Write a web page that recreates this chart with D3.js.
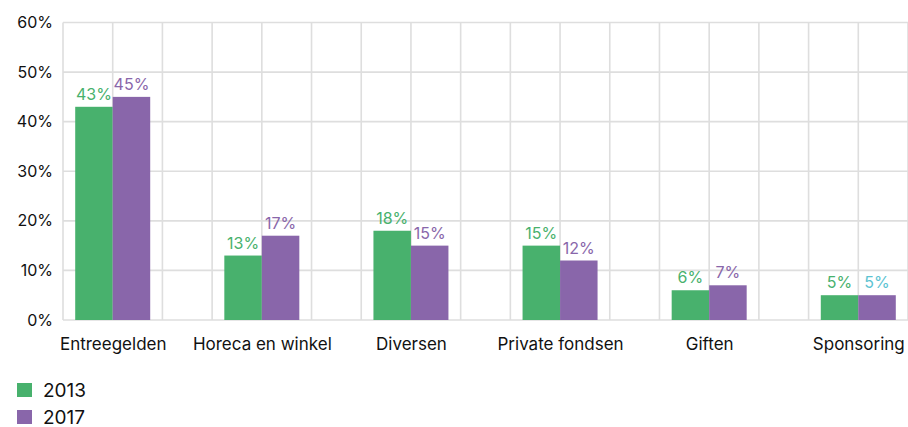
<!DOCTYPE html>
<html>
<head>
<meta charset="utf-8">
<script src="https://cdn.jsdelivr.net/npm/d3@7"></script>
<style>
  html, body { margin: 0; padding: 0; background: #ffffff; }
  svg { display: block; font-family: Inter, "Noto Sans", sans-serif; }
</style>
</head>
<body>
<svg id="chart" width="908" height="427"></svg>
<script>
// Inkomstenbronnen, aandeel per jaar
const categories = ["Entreegelden", "Horeca en winkel", "Diversen", "Private fondsen", "Giften", "Sponsoring"];
const series = ["2013", "2017"];
const values2013 = [43, 13, 18, 15, 6, 5];
const values2017 = [45, 17, 15, 12, 7, 5];
const yTicks = [0, 10, 20, 30, 40, 50, 60];

const colors = { "2013": "#48b16d", "2017": "#8966aa" };
const labelColors2013 = ["#48b16d", "#48b16d", "#48b16d", "#48b16d", "#48b16d", "#48b16d"];
const labelColors2017 = ["#8966aa", "#8966aa", "#8966aa", "#8966aa", "#8966aa", "#5cc3d2"];

const svg = d3.select("#chart");
const plot = { left: 63, right: 908, top: 22.5, bottom: 320 };
const gridStep = (plot.right - plot.left) / 17;

const y = d3.scaleLinear().domain([0, 60]).range([plot.bottom, plot.top]);
const x = d3.scalePoint().domain(categories).range([plot.left + gridStep, plot.left + 16 * gridStep]);
const sub = d3.scaleBand().domain(series).range([-37.5, 37.5]);

// grid
const grid = svg.append("g").attr("stroke", "#dedede").attr("stroke-width", 1.6);
grid.selectAll("line.h").data(yTicks).join("line").attr("class", "h")
  .attr("x1", plot.left).attr("x2", plot.right)
  .attr("y1", d => y(d)).attr("y2", d => y(d));
grid.selectAll("line.v").data(d3.range(18)).join("line").attr("class", "v")
  .attr("x1", d => plot.left + d * gridStep).attr("x2", d => plot.left + d * gridStep)
  .attr("y1", plot.top).attr("y2", plot.bottom);

// y axis labels
const yAxis = svg.append("g")
  .attr("transform", `translate(${plot.left - 10},0)`)
  .call(d3.axisLeft(y).tickValues(yTicks).tickFormat(d => d + "%").tickSize(0).tickPadding(0));
yAxis.select(".domain").remove();
yAxis.selectAll("text").attr("font-size", 16).attr("fill", "#111").attr("font-family", "Inter, sans-serif");

// x axis labels
const xAxis = svg.append("g")
  .attr("transform", `translate(0,${plot.bottom + 18})`)
  .call(d3.axisBottom(x).tickSize(0).tickPadding(0));
xAxis.select(".domain").remove();
xAxis.selectAll("text").attr("font-size", 17).attr("fill", "#111").attr("font-family", "Inter, sans-serif");

// bars
const rows = categories.map((c, i) => ({
  cat: c,
  items: [
    { s: "2013", v: values2013[i], lc: labelColors2013[i] },
    { s: "2017", v: values2017[i], lc: labelColors2017[i] }
  ]
}));

const groups = svg.append("g").selectAll("g").data(rows).join("g")
  .attr("transform", d => `translate(${x(d.cat)},0)`);

groups.selectAll("rect").data(d => d.items).join("rect")
  .attr("x", d => sub(d.s))
  .attr("width", sub.bandwidth())
  .attr("y", d => y(d.v))
  .attr("height", d => y(0) - y(d.v))
  .attr("fill", d => colors[d.s]);

groups.selectAll("text").data(d => d.items).join("text")
  .attr("x", d => sub(d.s) + sub.bandwidth() / 2)
  .attr("y", d => y(d.v) - 7)
  .attr("text-anchor", "middle")
  .attr("font-size", 16)
  .attr("fill", d => d.lc)
  .text(d => d.v + "%");

// legend
const legend = svg.append("g").attr("transform", "translate(17,383)");
const li = legend.selectAll("g").data(series).join("g")
  .attr("transform", (d, i) => `translate(0,${i * 27})`);
li.append("rect").attr("width", 15).attr("height", 14).attr("fill", d => colors[d]);
li.append("text").attr("x", 26).attr("y", 14).attr("font-size", 19).attr("fill", "#111").text(d => d);
</script>
</body>
</html>
